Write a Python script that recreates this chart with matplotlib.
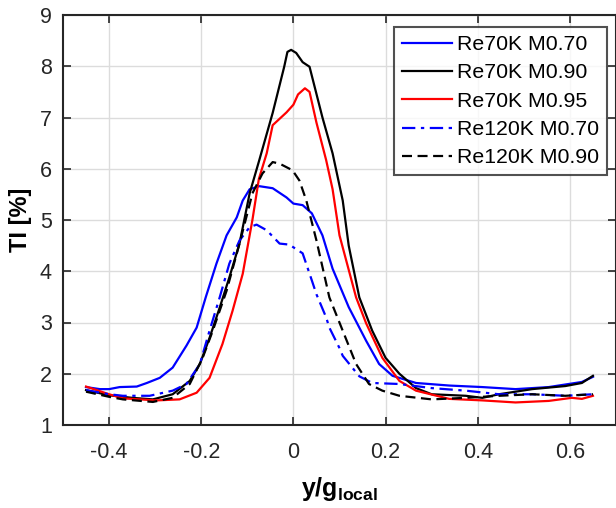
import matplotlib
matplotlib.use("Agg")
import matplotlib.pyplot as plt

plt.rcParams['font.family'] = ['Liberation Sans', 'DejaVu Sans']
plt.rcParams['mathtext.fontset'] = 'custom'
plt.rcParams['mathtext.rm'] = 'Liberation Sans'
plt.rcParams['mathtext.bf'] = 'Liberation Sans:bold'

labels = ["Re70K M0.70", "Re70K M0.90", "Re70K M0.95", "Re120K M0.70", "Re120K M0.90"]

x_b70 = [-0.45, -0.42, -0.40, -0.377, -0.34, -0.318, -0.29, -0.262, -0.232, -0.21, -0.19, -0.167, -0.145,
         -0.123, -0.11, -0.095, -0.074, -0.045, -0.015, 0.0, 0.02, 0.04, 0.063, 0.085, 0.12, 0.158, 0.186,
         0.215, 0.266, 0.338, 0.41, 0.482, 0.554, 0.626, 0.65]
y_b70 = [1.74, 1.70, 1.70, 1.74, 1.75, 1.82, 1.92, 2.12, 2.55, 2.9, 3.5, 4.15, 4.7,
         5.05, 5.38, 5.6, 5.66, 5.62, 5.44, 5.32, 5.29, 5.13, 4.7, 4.05, 3.3, 2.64, 2.19,
         1.96, 1.82, 1.77, 1.74, 1.70, 1.74, 1.84, 1.94]

x_k90 = [-0.45, -0.40, -0.35, -0.305, -0.262, -0.225, -0.203, -0.182, -0.16, -0.139, -0.117, -0.095,
         -0.074, -0.045, -0.02, -0.013, -0.005, 0.006, 0.02, 0.035, 0.063, 0.085, 0.107, 0.12, 0.143,
         0.171, 0.2, 0.23, 0.266, 0.3, 0.374, 0.41, 0.446, 0.518, 0.59, 0.626, 0.65]
y_k90 = [1.68, 1.58, 1.53, 1.50, 1.60, 1.86, 2.19, 2.7, 3.29, 3.88, 4.54, 5.52,
         6.17, 7.09, 7.99, 8.28, 8.32, 8.26, 8.08, 7.99, 7.0, 6.3, 5.38, 4.5, 3.49,
         2.84, 2.31, 2.0, 1.72, 1.6, 1.57, 1.53, 1.6, 1.7, 1.76, 1.82, 1.96]

x_r95 = [-0.45, -0.40, -0.37, -0.297, -0.247, -0.21, -0.182, -0.154, -0.132, -0.11, -0.089, -0.075,
         -0.058, -0.045, -0.015, 0.0, 0.01, 0.025, 0.035, 0.05, 0.071, 0.085, 0.1, 0.136, 0.158, 0.193,
         0.23, 0.266, 0.338, 0.41, 0.482, 0.554, 0.604, 0.626, 0.65]
y_r95 = [1.75, 1.6, 1.52, 1.48, 1.5, 1.63, 1.92, 2.58, 3.23, 3.95, 5.0, 5.8,
         6.3, 6.85, 7.1, 7.25, 7.45, 7.57, 7.5, 6.9, 6.17, 5.6, 4.7, 3.49, 2.98, 2.31,
         1.86, 1.67, 1.51, 1.48, 1.44, 1.47, 1.53, 1.51, 1.57]

x_b120 = [-0.45, -0.40, -0.37, -0.312, -0.262, -0.232, -0.203, -0.182, -0.16, -0.139, -0.117, -0.095,
          -0.08, -0.058, -0.03, -0.009, 0.02, 0.04, 0.05, 0.071, 0.078, 0.1, 0.107, 0.143, 0.171, 0.23,
          0.3, 0.374, 0.446, 0.518, 0.59, 0.65]
y_b120 = [1.68, 1.6, 1.57, 1.57, 1.67, 1.8, 2.19, 2.84, 3.49, 4.15, 4.6, 4.86,
          4.91, 4.8, 4.54, 4.52, 4.35, 3.82, 3.55, 3.1, 2.9, 2.5, 2.35, 1.95, 1.82, 1.8,
          1.72, 1.67, 1.6, 1.6, 1.57, 1.6]

x_k120 = [-0.45, -0.40, -0.37, -0.305, -0.262, -0.225, -0.197, -0.175, -0.145, -0.117, -0.1, -0.089,
          -0.067, -0.045, -0.03, -0.002, 0.013, 0.028, 0.05, 0.078, 0.107, 0.136, 0.164, 0.193, 0.23,
          0.3, 0.374, 0.446, 0.518, 0.59, 0.65]
y_k120 = [1.65, 1.55, 1.5, 1.45, 1.53, 1.8, 2.31, 2.84, 3.62, 4.54, 5.13, 5.52,
          5.91, 6.13, 6.1, 5.97, 5.77, 5.38, 4.6, 3.49, 2.84, 2.19, 1.8, 1.67, 1.57,
          1.5, 1.53, 1.57, 1.6, 1.57, 1.6]

x_ticks = [-0.4, -0.2, 0, 0.2, 0.4, 0.6]
x_ticklabels = ["-0.4", "-0.2", "0", "0.2", "0.4", "0.6"]
y_ticks = [1, 2, 3, 4, 5, 6, 7, 8, 9]

fig = plt.figure(figsize=(6.16, 5.08), dpi=100)
ax = fig.add_axes([63 / 616, (508 - 425) / 508, (616 - 63) / 616, (425 - 15) / 508])

lw = 1.6
ax.plot(x_b70, y_b70, color='#0000ff', lw=lw, label=labels[0])
ax.plot(x_k90, y_k90, color='black', lw=lw, label=labels[1])
ax.plot(x_r95, y_r95, color='#ff0000', lw=lw, label=labels[2])
ax.plot(x_b120, y_b120, color='#0000ff', lw=lw, linestyle=(0, (6, 2.5, 1.5, 2.5)), label=labels[3])
ax.plot(x_k120, y_k120, color='black', lw=lw, linestyle=(0, (4.5, 2.5)), label=labels[4])

ax.set_xlim(-0.5, 0.7)
ax.set_ylim(1, 9)
ax.set_xticks(x_ticks)
ax.set_xticklabels(x_ticklabels)
ax.set_yticks(y_ticks)
ax.grid(True, color='#dcdcdc', lw=1.0)
ax.set_axisbelow(True)
ax.tick_params(direction='in', length=6, width=1.2, top=True, right=True,
               labelsize=15.5, colors='#262626')
ax.tick_params(axis='x', pad=12)
ax.tick_params(axis='y', pad=8)
for s in ax.spines.values():
    s.set_linewidth(1.5)
    s.set_color('#262626')

ax.set_ylabel('TI [%]', fontsize=17, fontweight='bold', labelpad=6)
ax.set_xlabel(r'$\mathbf{y/g}_{\mathbf{local}}$', fontsize=18, labelpad=9)

leg = ax.legend(loc='upper right', bbox_to_anchor=(0.984, 0.971), fontsize=15.3,
                frameon=True, fancybox=False, edgecolor='#262626', handlelength=2.35,
                handletextpad=0.24, borderpad=0.38, labelspacing=0.44, borderaxespad=0)
leg.get_frame().set_linewidth(1.5)

fig.savefig('out.png', dpi=100)
